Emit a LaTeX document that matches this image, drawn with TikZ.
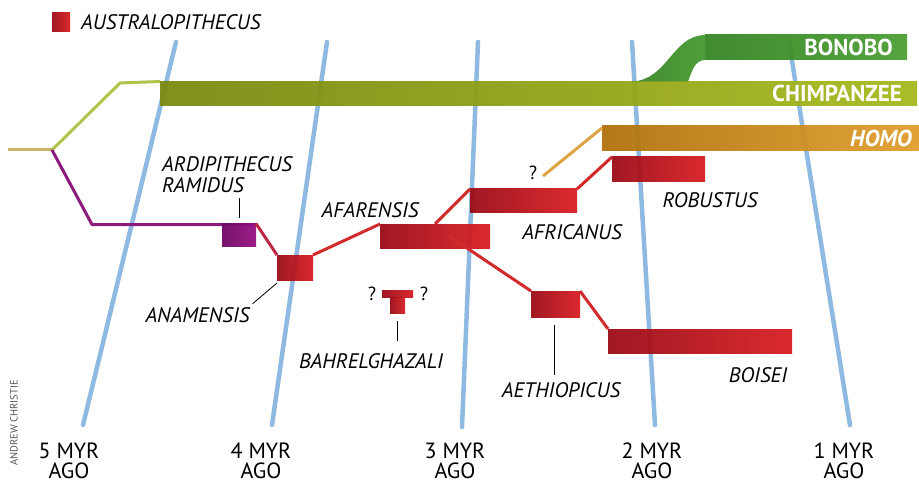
\documentclass[tikz,border=0pt]{standalone}
\usepackage{fontspec}
\setmainfont{PT Sans}
\usepackage{xcolor}
\usepackage{tikz}
\usetikzlibrary{positioning,calc}
\definecolor{axisBlue}{HTML}{8EB9E0}
\definecolor{chimpDark}{HTML}{7A880E}
\definecolor{chimpLight}{HTML}{A6B81C}
\definecolor{bonoboDark}{HTML}{358424}
\definecolor{bonoboLight}{HTML}{4A9E32}
\definecolor{homoDark}{HTML}{B0700A}
\definecolor{homoLight}{HTML}{E09E2C}
\definecolor{australDark}{HTML}{9A0A14}
\definecolor{australLight}{HTML}{D81C22}
\definecolor{ardiDark}{HTML}{6E0664}
\definecolor{ardiLight}{HTML}{961080}
\definecolor{stemTan}{HTML}{C9B468}
\definecolor{chimpLine}{HTML}{B2C24A}
\definecolor{ardiLine}{HTML}{8C1A7C}
\definecolor{australLine}{HTML}{D22A2A}
\definecolor{homoLine}{HTML}{DDA444}
\definecolor{creditGray}{HTML}{555555}

\begin{document}
\begin{tikzpicture}[x=1pt,y=-1pt,
  axis/.style={draw=axisBlue,line width=4.5pt,line cap=round},
  blk/.style={rectangle,inner sep=0pt,outer sep=0pt,left color=#1Dark,right color=#1Light,fill opacity=0.94},
  lnk/.style={draw=#1,line width=3pt,line join=round},
  lead/.style={draw=black,line width=0.8pt},
  sp/.style={font=\fontsize{21}{21}\selectfont\itshape,inner sep=0pt},
  age/.style={font=\fontsize{22}{20}\selectfont,align=center,inner sep=0pt},
  tagw/.style={font=\fontsize{23}{24}\selectfont\bfseries,text=white,inner sep=0pt,anchor=east},
  qm/.style={font=\fontsize{19}{20}\selectfont,inner sep=0pt}
]
  \useasboundingbox (0,0) rectangle (919,484);

  % time axes
  \draw[axis] (176,42) -- (83,425);
  \draw[axis] (327,42) -- (272,425);
  \draw[axis] (478,42) -- (462,427);
  \draw[axis] (632,42) -- (655,425);
  \draw[axis] (789,42) -- (850,425);

  \node[age] (myr5) at (69,461) {5 MYR\\AGO};
  \node[age] (myr4) at (261,461) {4 MYR\\AGO};
  \node[age] (myr3) at (455,461) {3 MYR\\AGO};
  \node[age] (myr2) at (652,461) {2 MYR\\AGO};
  \node[age] (myr1) at (844,461) {1 MYR\\AGO};

  % legend
  \node[blk=austral,minimum width=18pt,minimum height=19pt] (legendBox) at (61,22.5) {};
  \node[sp,anchor=west] (legendLbl) at (81,22) {AUSTRALOPITHECUS};

  % apes
  \coordinate (fork) at (52,150);
  \draw[lnk=stemTan] (8,150) -- (fork);
  \node[blk=chimp,minimum width=757pt,minimum height=24pt] (chimp) at (538.5,93.5) {};
  \draw[lnk=chimpLine] (fork) -- (120,83) -- (chimp.north west);
  \node[blk=bonobo,minimum width=202pt,minimum height=25pt] (bonobo) at (806,47.5) {};
  \shade[left color=bonoboDark,right color=bonoboLight!80!bonoboDark,fill opacity=0.94]
    (632,81.5) .. controls (668,80) and (672,35) .. ([xshift=0.5pt]bonobo.north west)
    -- ([xshift=0.5pt]bonobo.south west) .. controls (694,60) and (692,72) .. (688,81.5) -- cycle;
  \node[tagw] (chimpLbl) at ([xshift=-15pt]chimp.east) {CHIMPANZEE};
  \node[tagw] (bonoboLbl) at ([xshift=-14pt]bonobo.east) {BONOBO};

  % homo
  \node[blk=homo,minimum width=317pt,minimum height=25pt] (homo) at (760.5,138.5) {};
  \node[tagw,font=\fontsize{23}{24}\selectfont\bfseries\itshape] (homoLbl) at ([xshift=-7pt]homo.east) {HOMO};
  \coordinate (homoQ) at (543,176);
  \draw[lnk=homoLine] (homoQ) -- ([yshift=-2pt]homo.north west);
  \node[qm] (homoQm) at (533,173) {?};

  % hominin lineages
  \draw[lnk=ardiLine] (fork) -- (92,224.5) -- (256,224.5);
  \node[blk=ardi,minimum width=34pt,minimum height=23pt] (ramidus) at (239,235) {};
  \node[blk=austral,minimum width=36pt,minimum height=25pt] (anamensis) at (295,267.5) {};
  \node[blk=austral,minimum width=110pt,minimum height=24pt] (afarensis) at (435,236) {};
  \node[blk=austral,minimum width=107pt,minimum height=24pt] (africanus) at (523.5,201) {};
  \node[blk=austral,minimum width=93pt,minimum height=25pt] (robustus) at (658.5,169.5) {};
  \node[blk=austral,minimum width=49pt,minimum height=26pt] (aethiopicus) at (555.5,304) {};
  \node[blk=austral,minimum width=184pt,minimum height=24pt] (boisei) at (700,341) {};

  \draw[lnk=australLine!70!ardiLine] (ramidus.north east) -- (anamensis.north west);
  \draw[lnk=australLine] (anamensis.north east) -- (afarensis.north west);
  \draw[lnk=australLine] (afarensis.north) -- (africanus.north west);
  \draw[lnk=australLine] (africanus.north east) -- (robustus.north west);
  \draw[lnk=australLine] ([xshift=14pt]afarensis.center) -- (aethiopicus.north west);
  \draw[lnk=australLine] (aethiopicus.north east) -- (boisei.north west);

  % bahrelghazali
  \node[blk=austral,minimum width=31pt,minimum height=7pt] (bahrelTop) at (397.5,293.5) {};
  \node[blk=austral,minimum width=15pt,minimum height=16pt] (bahrelStem) at (397.5,305) {};
  \node[qm] (bahrelQl) at (372,294) {?};
  \node[qm] (bahrelQr) at (424,294) {?};

  % species labels
  \node[sp,align=left,anchor=north west] (ramidusLbl) at (162,156) {ARDIPITHECUS\\RAMIDUS};
  \node[sp] (anamensisLbl) at (197.5,315.5) {ANAMENSIS};
  \node[sp] (afarensisLbl) at (370,210) {AFARENSIS};
  \node[sp] (africanusLbl) at (572,232) {AFRICANUS};
  \node[sp] (robustusLbl) at (710,200) {ROBUSTUS};
  \node[sp] (bahrelLbl) at (371,361) {BAHRELGHAZALI};
  \node[sp] (aethiopicusLbl) at (561,390) {AETHIOPICUS};
  \node[sp] (boiseiLbl) at (758,375) {BOISEI};

  \draw[lead] ([yshift=5.5pt]ramidus.north) -- ([yshift=25.5pt]ramidus.north);
  \draw[lead] ([yshift=-3pt]anamensis.south west) -- ([shift={(3pt,4pt)}]anamensisLbl.north east);
  \draw[lead] ([yshift=-8pt]bahrelStem.south) -- ([yshift=-28pt]bahrelStem.south);
  \draw[lead] ([shift={(-1.5pt,-8pt)}]aethiopicus.south) -- ([shift={(-1.5pt,-58pt)}]aethiopicus.south);

  \node[rotate=90,font=\fontsize{10.5}{11}\selectfont,text=creditGray,inner sep=0pt] (credit) at (14,423) {ANDREW CHRISTIE};
\end{tikzpicture}
\end{document}
